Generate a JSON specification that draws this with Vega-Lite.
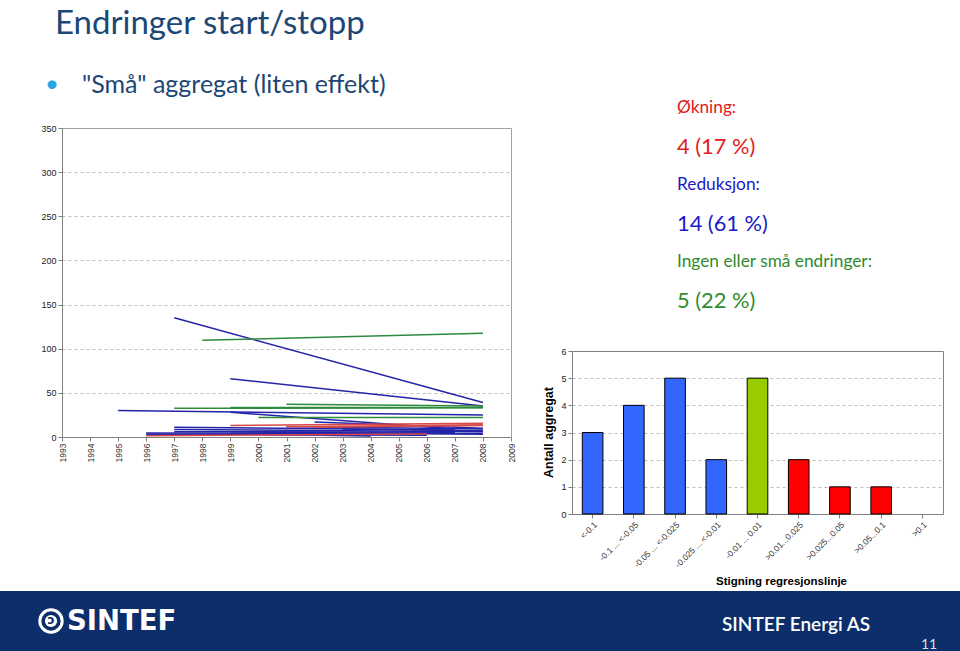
{
  "$schema": "https://vega.github.io/schema/vega-lite/v6.json",
  "background": "white",
  "padding": 0,
  "spacing": 0,
  "bounds": "flush",
  "config": {
    "view": {"stroke": null},
    "axis": {"labelFont": "Liberation Sans", "titleFont": "Liberation Sans", "labelColor": "#222222", "domainColor": "#808080", "tickColor": "#808080", "gridColor": "#BDBDBD", "gridDash": [3, 3], "tickSize": 4}
  },
  "datasets": {
    "linjer": [
      {"id": "b1", "gruppe": "Reduksjon", "aar": 1997, "verdi": 135},
      {"id": "b1", "gruppe": "Reduksjon", "aar": 2008, "verdi": 39},
      {"id": "b2", "gruppe": "Reduksjon", "aar": 1999, "verdi": 66},
      {"id": "b2", "gruppe": "Reduksjon", "aar": 2008, "verdi": 35},
      {"id": "b3", "gruppe": "Reduksjon", "aar": 1995, "verdi": 30},
      {"id": "b3", "gruppe": "Reduksjon", "aar": 2008, "verdi": 25},
      {"id": "b4", "gruppe": "Reduksjon", "aar": 1999, "verdi": 28},
      {"id": "b4", "gruppe": "Reduksjon", "aar": 2007, "verdi": 9},
      {"id": "b5", "gruppe": "Reduksjon", "aar": 2002, "verdi": 17},
      {"id": "b5", "gruppe": "Reduksjon", "aar": 2008, "verdi": 10},
      {"id": "b6", "gruppe": "Reduksjon", "aar": 1997, "verdi": 11},
      {"id": "b6", "gruppe": "Reduksjon", "aar": 2007, "verdi": 8},
      {"id": "b7", "gruppe": "Reduksjon", "aar": 1997, "verdi": 8.5},
      {"id": "b7", "gruppe": "Reduksjon", "aar": 2008, "verdi": 6},
      {"id": "b8", "gruppe": "Reduksjon", "aar": 1996, "verdi": 4.5},
      {"id": "b8", "gruppe": "Reduksjon", "aar": 2008, "verdi": 4},
      {"id": "b9", "gruppe": "Reduksjon", "aar": 1999, "verdi": 3.5},
      {"id": "b9", "gruppe": "Reduksjon", "aar": 2004, "verdi": 1},
      {"id": "b10", "gruppe": "Reduksjon", "aar": 2001, "verdi": 12},
      {"id": "b10", "gruppe": "Reduksjon", "aar": 2008, "verdi": 9},
      {"id": "b11", "gruppe": "Reduksjon", "aar": 1999, "verdi": 6},
      {"id": "b11", "gruppe": "Reduksjon", "aar": 2008, "verdi": 3},
      {"id": "b12", "gruppe": "Reduksjon", "aar": 1997, "verdi": 6},
      {"id": "b12", "gruppe": "Reduksjon", "aar": 2007, "verdi": 5.5},
      {"id": "b13", "gruppe": "Reduksjon", "aar": 2003, "verdi": 9},
      {"id": "b13", "gruppe": "Reduksjon", "aar": 2008, "verdi": 7},
      {"id": "b14", "gruppe": "Reduksjon", "aar": 1996, "verdi": 3},
      {"id": "b14", "gruppe": "Reduksjon", "aar": 2006, "verdi": 2},
      {"id": "g1", "gruppe": "Ingen", "aar": 1998, "verdi": 109.5},
      {"id": "g1", "gruppe": "Ingen", "aar": 2008, "verdi": 117.5},
      {"id": "g2", "gruppe": "Ingen", "aar": 2001, "verdi": 37},
      {"id": "g2", "gruppe": "Ingen", "aar": 2008, "verdi": 35},
      {"id": "g3", "gruppe": "Ingen", "aar": 1997, "verdi": 32.5},
      {"id": "g3", "gruppe": "Ingen", "aar": 2008, "verdi": 33},
      {"id": "g4", "gruppe": "Ingen", "aar": 2000, "verdi": 22},
      {"id": "g4", "gruppe": "Ingen", "aar": 2008, "verdi": 22},
      {"id": "g5", "gruppe": "Ingen", "aar": 1999, "verdi": 33.5},
      {"id": "g5", "gruppe": "Ingen", "aar": 2008, "verdi": 33.5},
      {"id": "r1", "gruppe": "Økning", "aar": 1999, "verdi": 13},
      {"id": "r1", "gruppe": "Økning", "aar": 2008, "verdi": 15.5},
      {"id": "r2", "gruppe": "Økning", "aar": 2001, "verdi": 11.5},
      {"id": "r2", "gruppe": "Økning", "aar": 2008, "verdi": 14},
      {"id": "r3", "gruppe": "Økning", "aar": 1996, "verdi": 1.5},
      {"id": "r3", "gruppe": "Økning", "aar": 2006, "verdi": 3.5},
      {"id": "r4", "gruppe": "Økning", "aar": 2002, "verdi": 11},
      {"id": "r4", "gruppe": "Økning", "aar": 2008, "verdi": 13}
    ],
    "stolper": [
      {"kat": "<-0.1", "antall": 3, "gruppe": "Reduksjon"},
      {"kat": "-0.1 ... <-0.05", "antall": 4, "gruppe": "Reduksjon"},
      {"kat": "-0.05 ... <-0.025", "antall": 5, "gruppe": "Reduksjon"},
      {"kat": "-0.025 ... <-0.01", "antall": 2, "gruppe": "Reduksjon"},
      {"kat": "-0.01 ... 0.01", "antall": 5, "gruppe": "Ingen"},
      {"kat": ">0.01...0.025", "antall": 2, "gruppe": "Økning"},
      {"kat": ">0.025...0.05", "antall": 1, "gruppe": "Økning"},
      {"kat": ">0.05...0.1", "antall": 1, "gruppe": "Økning"},
      {"kat": ">0.1", "antall": 0, "gruppe": "Økning"}
    ],
    "merknader": [
      {"linje": 1, "tekst": "Økning:", "gruppe": "Økning", "stil": "etikett"},
      {"linje": 2, "tekst": "\u00a04 (17 %)", "gruppe": "Økning", "stil": "tall"},
      {"linje": 3, "tekst": "Reduksjon:", "gruppe": "Reduksjon", "stil": "etikett"},
      {"linje": 4, "tekst": "14 (61 %)", "gruppe": "Reduksjon", "stil": "tall"},
      {"linje": 5, "tekst": "Ingen eller små endringer:", "gruppe": "Ingen", "stil": "etikett"},
      {"linje": 6, "tekst": "\u00a05 (22 %)", "gruppe": "Ingen", "stil": "tall"}
    ]
  },
  "vconcat": [
    {
      "width": 960,
      "height": 591,
      "layer": [
        {
          "data": {"values": [{"del": "tittel", "tekst": "Endringer start/stopp"}]},
          "mark": {"type": "text", "align": "left", "baseline": "alphabetic", "font": "Lato", "fontSize": 33, "color": "#1C4775"},
          "encoding": {
            "x": {"field": "del", "type": "nominal", "scale": {"type": "point", "range": [55, 55]}, "axis": null},
            "y": {"field": "del", "type": "nominal", "scale": {"type": "point", "range": [34, 34]}, "axis": null},
            "text": {"field": "tekst"}
          }
        },
        {
          "data": {"values": [{"del": "kule", "tekst": "•"}]},
          "mark": {"type": "text", "align": "center", "baseline": "middle", "font": "Lato", "fontSize": 24, "color": "#2AA6E0"},
          "encoding": {
            "x": {"field": "del", "type": "nominal", "scale": {"type": "point", "range": [52, 52]}, "axis": null},
            "y": {"field": "del", "type": "nominal", "scale": {"type": "point", "range": [85, 85]}, "axis": null},
            "text": {"field": "tekst"}
          }
        },
        {
          "data": {"values": [{"del": "punkt", "tekst": "\"Små\" aggregat (liten effekt)"}]},
          "mark": {"type": "text", "align": "left", "baseline": "alphabetic", "font": "Lato", "fontSize": 25, "color": "#1C4775"},
          "encoding": {
            "x": {"field": "del", "type": "nominal", "scale": {"type": "point", "range": [82, 82]}, "axis": null},
            "y": {"field": "del", "type": "nominal", "scale": {"type": "point", "range": [93, 93]}, "axis": null},
            "text": {"field": "tekst"}
          }
        },
        {
          "data": {"name": "merknader"},
          "mark": {"type": "text", "align": "left", "baseline": "middle", "font": "Lato"},
          "encoding": {
            "x": {"field": "stil", "type": "nominal", "scale": {"type": "point", "range": [677, 677]}, "axis": null},
            "y": {"field": "linje", "type": "ordinal", "scale": {"type": "point", "range": [108, 301], "padding": 0}, "axis": null},
            "text": {"field": "tekst"},
            "size": {"field": "stil", "type": "nominal", "scale": {"domain": ["etikett", "tall"], "range": [17.3, 21.8]}, "legend": null},
            "color": {"field": "gruppe", "type": "nominal", "scale": {"domain": ["Økning", "Reduksjon", "Ingen"], "range": ["#E0201B", "#1A1AC8", "#2E8B2E"]}, "legend": null}
          }
        },
        {
          "data": {"name": "linjer"},
          "layer": [
            {
              "mark": {"type": "line", "opacity": 0},
              "encoding": {
                "x": {"field": "aar", "type": "quantitative", "scale": {"domain": [1993, 2009], "range": [62, 511], "nice": false, "zero": false}, "axis": {"orient": "top", "offset": -128, "labels": false, "ticks": false, "grid": false, "title": null, "domainColor": "#A0A0A0"}},
                "y": {"field": "verdi", "type": "quantitative", "scale": {"domain": [0, 350], "range": [437, 128], "nice": false}, "axis": {"orient": "right", "offset": -449, "labels": false, "ticks": false, "grid": false, "title": null, "domainColor": "#A0A0A0"}},
                "detail": {"field": "id"}
              }
            },
            {
              "mark": {"type": "line", "strokeWidth": 1.5},
              "encoding": {
                "x": {"field": "aar", "type": "quantitative", "scale": {"domain": [1993, 2009], "range": [62, 511], "nice": false, "zero": false}, "axis": {"orient": "bottom", "offset": -154, "values": [1993, 1994, 1995, 1996, 1997, 1998, 1999, 2000, 2001, 2002, 2003, 2004, 2005, 2006, 2007, 2008, 2009], "format": "d", "labelAngle": 270, "labelFontSize": 8.5, "labelFlush": false, "labelOverlap": false, "labelColor": "#333333", "grid": false, "title": null}},
                "y": {"field": "verdi", "type": "quantitative", "scale": {"domain": [0, 350], "range": [437, 128], "nice": false}, "axis": {"orient": "left", "offset": -62, "values": [0, 50, 100, 150, 200, 250, 300, 350], "grid": true, "labelFontSize": 9, "title": null}},
                "color": {"field": "gruppe", "type": "nominal", "scale": {"domain": ["Reduksjon", "Ingen", "Økning"], "range": ["#2424A8", "#2E8B3E", "#D94A4A"]}, "legend": null},
                "detail": {"field": "id"}
              }
            }
          ],
          "resolve": {"axis": {"x": "independent", "y": "independent"}}
        },
        {
          "data": {"name": "stolper"},
          "layer": [
            {
              "mark": {"type": "bar", "opacity": 0},
              "encoding": {
                "x": {"field": "kat", "type": "nominal", "sort": null, "scale": {"domain": ["<-0.1", "-0.1 ... <-0.05", "-0.05 ... <-0.025", "-0.025 ... <-0.01", "-0.01 ... 0.01", ">0.01...0.025", ">0.025...0.05", ">0.05...0.1", ">0.1"], "range": [572, 943], "paddingInner": 0.5, "paddingOuter": 0.25}, "axis": {"orient": "top", "offset": -351, "labels": false, "ticks": false, "grid": false, "title": null}},
                "y": {"field": "antall", "type": "quantitative", "scale": {"domain": [0, 6], "range": [514, 351], "nice": false}, "axis": {"orient": "right", "offset": -17, "labels": false, "ticks": false, "grid": false, "title": null}}
              }
            },
            {
              "mark": {"type": "bar", "stroke": "#000000", "strokeWidth": 1},
              "encoding": {
                "x": {"field": "kat", "type": "nominal", "sort": null, "scale": {"domain": ["<-0.1", "-0.1 ... <-0.05", "-0.05 ... <-0.025", "-0.025 ... <-0.01", "-0.01 ... 0.01", ">0.01...0.025", ">0.025...0.05", ">0.05...0.1", ">0.1"], "range": [572, 943], "paddingInner": 0.5, "paddingOuter": 0.25}, "axis": {"orient": "bottom", "offset": -77, "labelAngle": -45, "labelFontSize": 8.5, "labelColor": "#333333", "title": "Stigning regresjonslinje", "titleFontSize": 11.5, "titleFontWeight": "bold", "titleX": 781, "titleY": 70, "titleBaseline": "alphabetic", "titleColor": "#000000"}},
                "y": {"field": "antall", "type": "quantitative", "scale": {"domain": [0, 6], "range": [514, 351], "nice": false}, "axis": {"orient": "left", "offset": -572, "values": [0, 1, 2, 3, 4, 5, 6], "grid": true, "labelFontSize": 9, "title": "Antall aggregat", "titleFontSize": 12.5, "titleFontWeight": "bold", "titleX": -24, "titleY": 432, "titleBaseline": "middle", "titleAlign": "center", "titleColor": "#000000"}},
                "color": {"field": "gruppe", "type": "nominal", "scale": {"domain": ["Reduksjon", "Ingen", "Økning"], "range": ["#3366FF", "#99CC00", "#FF0000"]}, "legend": null},
                "strokeOpacity": {"condition": {"test": "datum.antall > 0", "value": 1}, "value": 0}
              }
            }
          ],
          "resolve": {"axis": {"x": "independent", "y": "independent"}}
        }
      ],
      "resolve": {
        "scale": {"x": "independent", "y": "independent", "color": "independent", "size": "independent"},
        "axis": {"x": "independent", "y": "independent"}
      }
    },
    {
      "width": 960,
      "height": 60,
      "view": {"fill": "#0C2E6A", "stroke": null},
      "layer": [
        {
          "data": {"values": [{"del": "logo"}]},
          "mark": {"type": "point", "shape": "circle", "filled": false, "stroke": "#FFFFFF", "strokeWidth": 3, "size": 500, "opacity": 1},
          "encoding": {
            "x": {"field": "del", "type": "nominal", "scale": {"type": "point", "range": [51, 51]}, "axis": null},
            "y": {"field": "del", "type": "nominal", "scale": {"type": "point", "range": [30, 30]}, "axis": null}
          }
        },
        {
          "data": {"values": [{"del": "logo"}]},
          "mark": {"type": "point", "shape": "circle", "filled": true, "color": "#FFFFFF", "size": 150, "opacity": 1},
          "encoding": {
            "x": {"field": "del", "type": "nominal", "scale": {"type": "point", "range": [51, 51]}, "axis": null},
            "y": {"field": "del", "type": "nominal", "scale": {"type": "point", "range": [30, 30]}, "axis": null}
          }
        },
        {
          "data": {"values": [{"del": "logo", "tekst": "ɔ"}]},
          "mark": {"type": "text", "align": "center", "baseline": "middle", "font": "DejaVu Sans", "fontWeight": "bold", "fontSize": 12, "color": "#0C2E6A"},
          "encoding": {
            "x": {"field": "del", "type": "nominal", "scale": {"type": "point", "range": [51, 51]}, "axis": null},
            "y": {"field": "del", "type": "nominal", "scale": {"type": "point", "range": [29, 29]}, "axis": null},
            "text": {"field": "tekst"}
          }
        },
        {
          "data": {"values": [{"del": "navn", "tekst": "SINTEF"}]},
          "mark": {"type": "text", "align": "left", "baseline": "middle", "font": "DejaVu Sans", "fontWeight": "bold", "fontSize": 27.5, "color": "#FFFFFF"},
          "encoding": {
            "x": {"field": "del", "type": "nominal", "scale": {"type": "point", "range": [67, 67]}, "axis": null},
            "y": {"field": "del", "type": "nominal", "scale": {"type": "point", "range": [31, 31]}, "axis": null},
            "text": {"field": "tekst"}
          }
        },
        {
          "data": {"values": [{"del": "firma", "tekst": "SINTEF Energi AS"}]},
          "mark": {"type": "text", "align": "left", "baseline": "middle", "font": "Lato", "fontSize": 19, "fontWeight": 600, "color": "#FFFFFF"},
          "encoding": {
            "x": {"field": "del", "type": "nominal", "scale": {"type": "point", "range": [722, 722]}, "axis": null},
            "y": {"field": "del", "type": "nominal", "scale": {"type": "point", "range": [34, 34]}, "axis": null},
            "text": {"field": "tekst"}
          }
        },
        {
          "data": {"values": [{"del": "side", "tekst": "11"}]},
          "mark": {"type": "text", "align": "left", "baseline": "middle", "font": "Lato", "fontSize": 14, "color": "#DDDDDD"},
          "encoding": {
            "x": {"field": "del", "type": "nominal", "scale": {"type": "point", "range": [921, 921]}, "axis": null},
            "y": {"field": "del", "type": "nominal", "scale": {"type": "point", "range": [54, 54]}, "axis": null},
            "text": {"field": "tekst"}
          }
        }
      ],
      "resolve": {"scale": {"x": "independent", "y": "independent"}}
    }
  ]
}
